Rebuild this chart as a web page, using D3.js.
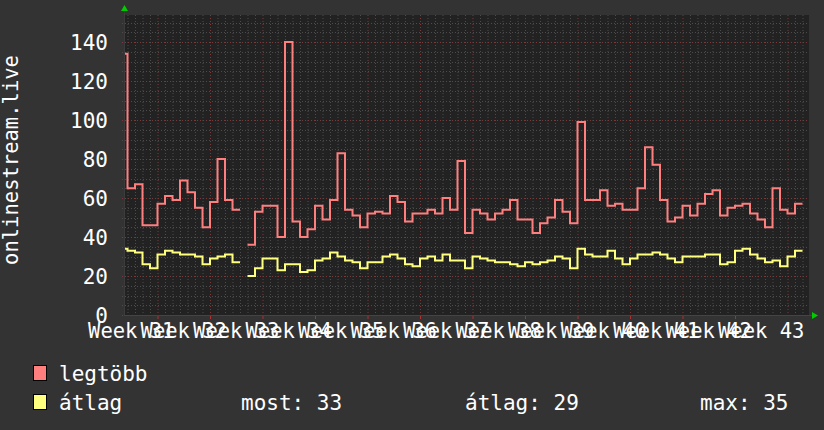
<!DOCTYPE html>
<html><head><meta charset="utf-8">
<script src="https://cdn.jsdelivr.net/npm/d3@7"></script>
<style>
html,body{margin:0;padding:0;background:#333333;}
svg{display:block;}
text{font-family:"DejaVu Sans Mono",monospace;fill:#ffffff;}
</style></head>
<body>
<script>
// ---- data (daily values, day 0 = start of Week 32) ----
const dayStart = -5;
const maxValues = [134,65,67,46,46,57,61,59,69,63,55,45,58,80,59,54,NaN,36,53,56,56,40,140,48,40,44,56,49,59,83,54,51,45,52,53,52,61,58,48,52,52,54,52,60,54,79,42,54,52,49,52,54,59,49,49,42,47,50,59,53,47,99,59,59,64,56,57,54,54,65,86,77,59,48,50,56,51,57,62,64,51,55,56,57,52,49,45,65,54,52,57];
const avgValues = [34,33,32,26,24,31,33,32,31,31,30,26,29,30,31,27,NaN,20,24,29,29,23,26,26,22,23,28,29,32,30,28,27,24,27,27,30,31,29,26,25,29,30,28,31,28,28,24,30,29,28,27,27,26,25,27,26,27,28,30,29,24,34,31,30,30,33,29,26,29,31,31,32,31,29,27,30,30,30,31,31,26,27,33,34,31,29,27,28,25,30,33];
const weekNumbers = [31,32,33,34,35,36,37,38,39,40,41,42,43];
const yTicks = [0,20,40,60,80,100,120,140];
const seriesNames = ["legtöbb","átlag"];
const seriesColors = ["#ff7f7f","#ffff7f"];
const stats = {most: 33, atlag: 29, max: 35};
const yTitle = "onlinestream.live";

const W = 824, H = 430;
const svg = d3.select("body").append("svg").attr("width", W).attr("height", H);
svg.append("rect").attr("width", W).attr("height", H).attr("fill", "#333333");

const x = d3.scaleLinear().domain([-4.4667, 86.8667]).range([124, 809]);
const y = d3.scaleLinear().domain([0, 153.85]).range([315, 15]);

const [x0, x1] = x.range();
const [yb, yt] = y.range();
svg.append("rect").attr("x", x0).attr("y", yt).attr("width", x1 - x0).attr("height", yb - yt).attr("fill", "#222222");

// grid
const g = svg.append("g");
const dayTicks = d3.range(Math.ceil(x.domain()[0]), Math.floor(x.domain()[1]) + 1);
dayTicks.forEach(d => {
  const isWeek = (d % 7 === 0);
  g.append("line").attr("x1", x(d)+0.5).attr("x2", x(d)+0.5).attr("y1", yt).attr("y2", yb + (isWeek ? 3 : 2))
    .attr("stroke", isWeek ? "#7a3a3a" : "#4c4c4c").attr("stroke-width", 1).attr("stroke-dasharray", "1,2");
});
d3.range(0, 155, 5).forEach(v => {
  const major = (v % 20 === 0);
  g.append("line").attr("x1", x0 - 2).attr("x2", x1).attr("y1", Math.round(y(v))+0.5).attr("y2", Math.round(y(v))+0.5)
    .attr("stroke", major ? "#7a3a3a" : "#4c4c4c").attr("stroke-width", 1).attr("stroke-dasharray", "1,2");
});
// week tick marks below axis
weekNumbers.slice(1).forEach((w, i) => {
  const d = i * 7;
  g.append("line").attr("x1", x(d)+0.5).attr("x2", x(d)+0.5).attr("y1", yb).attr("y2", yb + 4)
    .attr("stroke", "#aa3333").attr("stroke-width", 1);
});

// axes lines
svg.append("line").attr("x1", x0).attr("x2", x1 + 3).attr("y1", yb + 0.5).attr("y2", yb + 0.5).attr("stroke", "#444").attr("stroke-width", 1);
svg.append("line").attr("x1", x0 + 0.5).attr("x2", x0 + 0.5).attr("y1", yt - 3).attr("y2", yb).attr("stroke", "#3c3c3c").attr("stroke-width", 1);
// arrows
svg.append("path").attr("d", `M${x0-3},${yt-4}L${x0+4},${yt-4}L${x0+0.5},${yt-10}Z`).attr("fill", "#00cc00");
svg.append("path").attr("d", `M${x1+3},${yb-3}L${x1+3},${yb+4}L${x1+9},${yb+0.5}Z`).attr("fill", "#00cc00");

// y labels
svg.append("g").selectAll("text").data(yTicks).join("text")
  .attr("x", 108).attr("y", d => y(d)).attr("dy", "0.36em")
  .attr("text-anchor", "end").style("font-size", "21px").text(d => d);

// x labels centered in the middle of each week
svg.append("g").selectAll("text").data(weekNumbers).join("text")
  .attr("x", (w, i) => x(i * 7 - 3.5)).attr("y", 338)
  .attr("text-anchor", "middle").style("font-size", "20.5px").text(w => "Week " + w);

// y title
svg.append("text").attr("transform", `translate(18,160)rotate(-90)`)
  .attr("text-anchor", "middle").style("font-size", "20.5px").text(yTitle);

// series
function stepPoints(vals) {
  const pts = [];
  vals.forEach((v, i) => {
    const d = dayStart + i;
    if (isNaN(v)) { pts.push(null); return; }
    pts.push([Math.max(d, x.domain()[0]), v]);
    pts.push([d + 1, v]);
  });
  return pts;
}
const line = d3.line().defined(p => p !== null).x(p => x(p[0])).y(p => y(p[1]));
svg.append("defs").append("clipPath").attr("id", "clip").append("rect")
  .attr("x", x0 + 1).attr("y", yt).attr("width", x1 - x0).attr("height", yb - yt);
const plotG = svg.append("g").attr("clip-path", "url(#clip)");
[maxValues, avgValues].forEach((vals, k) => {
  plotG.append("path").attr("d", line(stepPoints(vals))).attr("fill", "none")
    .attr("stroke", seriesColors[k]).attr("stroke-width", 2).attr("stroke-linejoin", "miter");
});

// legend
const legY = [373, 402];
seriesNames.forEach((n, k) => {
  svg.append("rect").attr("x", 33.5).attr("y", legY[k] - 7.5).attr("width", 13).attr("height", 15)
    .attr("fill", seriesColors[k]).attr("stroke", "#000").attr("stroke-width", 1);
  svg.append("text").attr("x", 59).attr("y", legY[k]).attr("dy", "0.36em").style("font-size", "21px").text(n);
});
svg.append("text").attr("x", 241).attr("y", legY[1]).attr("dy", "0.36em").style("font-size", "21px").text("most: " + stats.most);
svg.append("text").attr("x", 465).attr("y", legY[1]).attr("dy", "0.36em").style("font-size", "21px").text("átlag: " + stats.atlag);
svg.append("text").attr("x", 700).attr("y", legY[1]).attr("dy", "0.36em").style("font-size", "21px").text("max: " + stats.max);
</script>
</body></html>
